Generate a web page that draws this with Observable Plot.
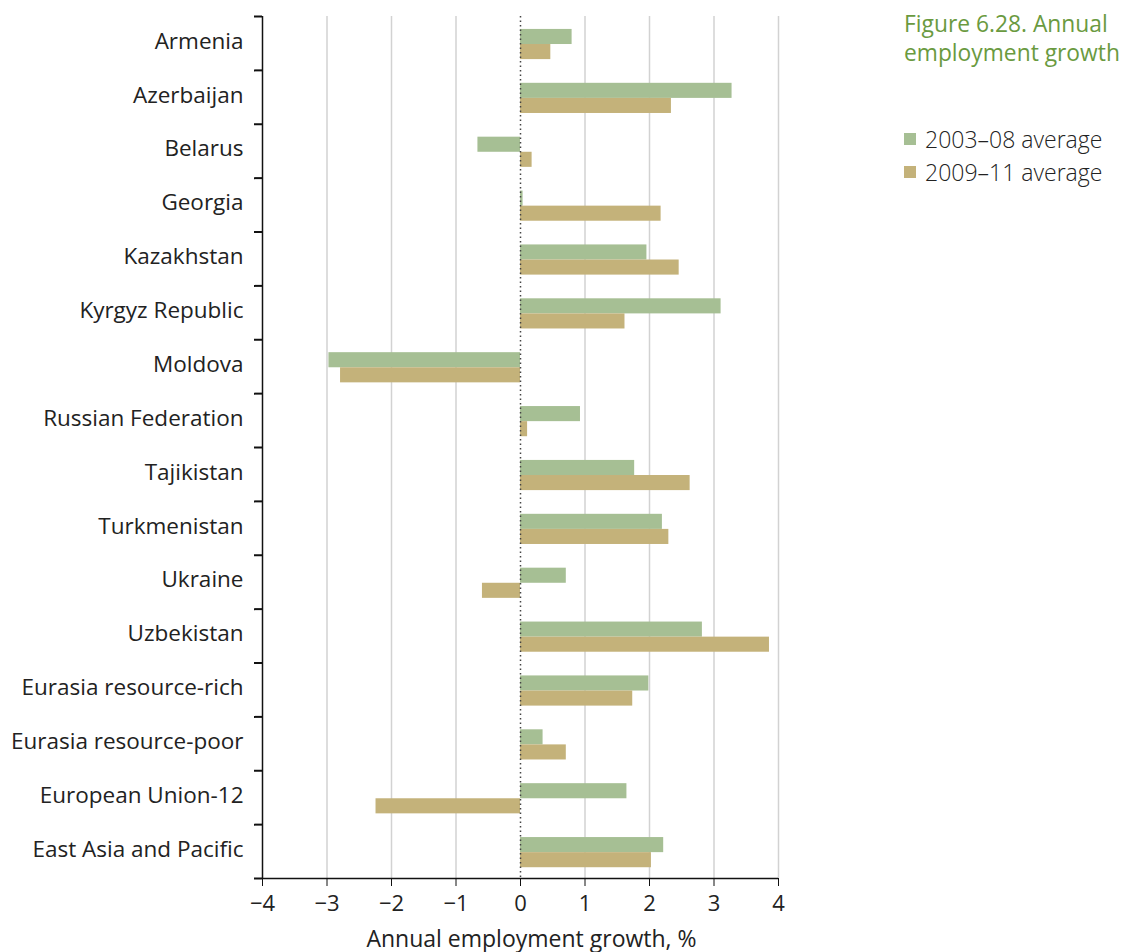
<!DOCTYPE html>
<html>
<head>
<meta charset="utf-8">
<script src="https://cdn.jsdelivr.net/npm/d3@7"></script>
<script src="https://cdn.jsdelivr.net/npm/@observablehq/plot@0.6"></script>
<style>
  body { margin: 0; background: #fff; font-family: "Open Sans", sans-serif; }
  #wrap { position: relative; width: 1126px; height: 952px; overflow: hidden; }
  #chart { position: absolute; left: 0; top: 0; }
  #side { position: absolute; left: 904px; top: 9px; }
  #title { color: #6a9a3f; font-size: 22.8px; font-weight: 500; line-height: 29px; margin: 0; }
  #legend { margin-top: 55px; }
  .item { display: flex; align-items: center; font-size: 23px; color: #222; height: 33px; font-weight: 300; }
  .sw { width: 12px; height: 12px; margin-right: 9px; }
</style>
</head>
<body>
<div id="wrap">
  <div id="chart"></div>
  <div id="side">
    <div id="title">Figure 6.28. Annual<br>employment growth</div>
    <div id="legend"></div>
  </div>
</div>
<script>
const countries = ["Armenia", "Azerbaijan", "Belarus", "Georgia", "Kazakhstan", "Kyrgyz Republic",
  "Moldova", "Russian Federation", "Tajikistan", "Turkmenistan", "Ukraine", "Uzbekistan",
  "Eurasia resource-rich", "Eurasia resource-poor", "European Union-12", "East Asia and Pacific"];
const seriesNames = ["2003–08 average", "2009–11 average"];
const avg0308 = [0.80, 3.28, -0.66, 0.04, 1.96, 3.11, -2.97, 0.93, 1.77, 2.20, 0.71, 2.82, 1.99, 0.35, 1.65, 2.22];
const avg0911 = [0.47, 2.34, 0.18, 2.18, 2.46, 1.62, -2.79, 0.11, 2.63, 2.30, -0.59, 3.86, 1.74, 0.71, -2.24, 2.03];
const xTicks = [-4, -3, -2, -1, 0, 1, 2, 3, 4];
const colors = ["#a6bf94", "#c4b27a"];

const W = 800, H = 952, mL = 262, mR = 22, mT = 16, mB = 74;
const bw = (H - mT - mB) / countries.length;
const pxPerUnit = (W - mL - mR) / (xTicks[xTicks.length - 1] - xTicks[0]);
const xMin = xTicks[0], xMax = xTicks[xTicks.length - 1];
const lastCountry = countries[countries.length - 1];

const rows0 = countries.map((c, i) => ({country: c, series: seriesNames[0], value: avg0308[i]}));
const rows1 = countries.map((c, i) => ({country: c, series: seriesNames[1], value: avg0911[i]}));

const chart = Plot.plot({
  width: W, height: H,
  marginLeft: mL, marginRight: mR, marginTop: mT, marginBottom: mB,
  style: {fontFamily: "Open Sans, sans-serif", fontSize: "20px", color: "#222", background: "#fff", overflow: "visible"},
  x: {domain: [xMin, xMax], ticks: xTicks, label: null},
  y: {domain: countries, padding: 0, round: false, label: null},
  marks: [
    Plot.ruleX(xTicks.filter(t => t !== 0 && t !== xMin), {stroke: "#d2d2d2", strokeWidth: 1.5}),
    Plot.barX(rows0, {x: "value", y: "country", fill: colors[0], insetTop: bw * 0.24, insetBottom: bw * 0.48}),
    Plot.barX(rows1, {x: "value", y: "country", fill: colors[1], insetTop: bw * 0.52, insetBottom: bw * 0.20}),
    Plot.ruleX([0], {stroke: "#444", strokeWidth: 1.5, strokeDasharray: "1.5,3"}),
    Plot.ruleX([xMin], {stroke: "#111", strokeWidth: 1.5}),
    Plot.ruleY([lastCountry], {dy: bw / 2, x1: xMin, x2: xMax, stroke: "#111", strokeWidth: 1.5}),
    Plot.ruleY(countries, {x1: xMin - 8 / pxPerUnit, x2: xMin, dy: -bw / 2, stroke: "#111", strokeWidth: 2}),
    Plot.ruleY([lastCountry], {x1: xMin - 8 / pxPerUnit, x2: xMin, dy: bw / 2, stroke: "#111", strokeWidth: 2}),
    Plot.axisX({ticks: xTicks, tickSize: 8, tickPadding: 9, fontSize: 22, stroke: "#111",
      label: "Annual employment growth, %", labelAnchor: "center", labelOffset: 68, labelArrow: "none"}),
    Plot.axisY({tickSize: 0, tickPadding: 19, fontSize: 22.5, dy: -2})
  ]
});
document.getElementById("chart").appendChild(chart);
chart.querySelectorAll("text").forEach(t => {
  if (t.textContent === "Annual employment growth, %") {
    t.setAttribute("font-size", "23");
    t.setAttribute("dx", "11");
  }
});

const legend = document.getElementById("legend");
seriesNames.forEach((s, i) => {
  const d = document.createElement("div");
  d.className = "item";
  d.innerHTML = `<span class="sw" style="background:${colors[i]}"></span><span>${s}</span>`;
  legend.appendChild(d);
});
</script>
</body>
</html>
